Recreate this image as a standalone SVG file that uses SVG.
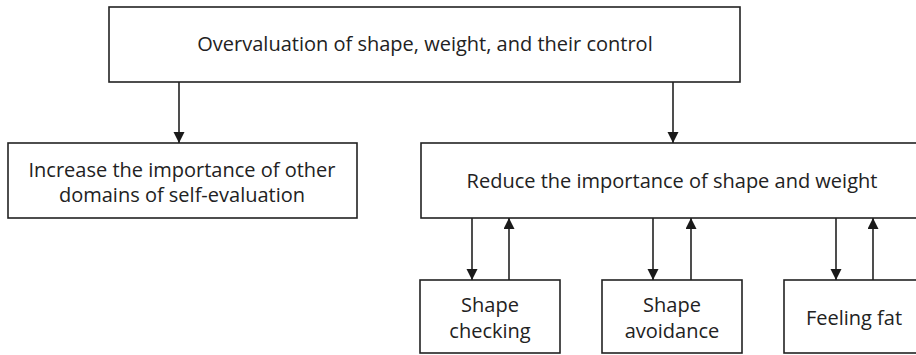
<svg xmlns="http://www.w3.org/2000/svg" width="916" height="355" viewBox="0 0 916 355">
<defs>
<marker id="ah" viewBox="0 0 11 12" refX="11" refY="5.5" markerWidth="11" markerHeight="12" markerUnits="userSpaceOnUse" orient="auto">
<path d="M0,0 L11,5.5 L0,11 Z" fill="#1a1a1a"/>
</marker>
<style>
.box{fill:#fff;stroke:#222;stroke-width:1.6}
.t{font-family:"Open Sans",Lato,sans-serif;font-size:20px;fill:#222;text-anchor:middle}
.c{stroke:#222;stroke-width:1.6;fill:none;marker-end:url(#ah)}
</style>
</defs>
<rect width="916" height="355" fill="#fff"/>
<g id="top"><rect class="box" x="109" y="7" width="631" height="75"/><text class="t" x="425" y="51">Overvaluation of shape, weight, and their control</text></g>
<g id="increase"><rect class="box" x="8" y="143" width="349" height="75"/><text class="t" x="182" y="177">Increase the importance of other</text><text class="t" x="182" y="202">domains of self-evaluation</text></g>
<g id="reduce"><rect class="box" x="421" y="143" width="503" height="75"/><text class="t" x="672" y="188">Reduce the importance of shape and weight</text></g>
<g id="checking"><rect class="box" x="420" y="280" width="140" height="73"/><text class="t" x="490" y="312">Shape</text><text class="t" x="490" y="338">checking</text></g>
<g id="avoidance"><rect class="box" x="602" y="280" width="140" height="73"/><text class="t" x="672" y="312">Shape</text><text class="t" x="672" y="338">avoidance</text></g>
<g id="fat"><rect class="box" x="784" y="280" width="140" height="73"/><text class="t" x="854" y="325">Feeling fat</text></g>
<g id="connectors">
<line class="c" x1="179" y1="82" x2="179" y2="143"/>
<line class="c" x1="673" y1="82" x2="673" y2="143"/>
<line class="c" x1="472" y1="218" x2="472" y2="280"/>
<line class="c" x1="509" y1="280" x2="509" y2="218"/>
<line class="c" x1="653" y1="218" x2="653" y2="280"/>
<line class="c" x1="691" y1="280" x2="691" y2="218"/>
<line class="c" x1="836" y1="218" x2="836" y2="280"/>
<line class="c" x1="873" y1="280" x2="873" y2="218"/>
</g>
</svg>
